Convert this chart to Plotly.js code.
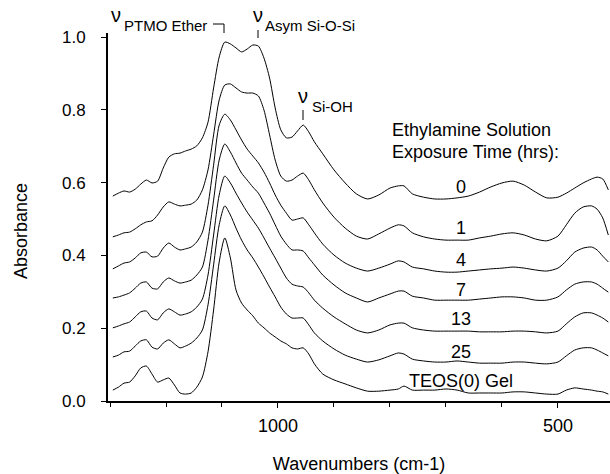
<!DOCTYPE html>
<html><head><meta charset="utf-8">
<script src="https://cdn.plot.ly/plotly-3.0.1.min.js"></script>
<style>html,body{margin:0;padding:0;background:#fff}#chart{width:610px;height:474px}</style>
</head><body><div id="chart"></div>
<script>
const wavenumbers = [1295,1285,1275,1265,1255,1245,1235,1225,1215,1205,1195,1185,1175,1165,1155,1145,1135,1125,1115,1105,1095,1085,1075,1065,1055,1045,1035,1025,1015,1005,
995,985,975,965,955,945,935,920,900,880,860,840,820,800,785,775,760,740,720,700,680,660,640,620,600,580,560,540,520,500,485,470,455,440,430,420,410];

const abs0h = [.563,.571,.577,.574,.582,.596,.607,.599,.604,.640,.670,.679,.681,.687,.692,.701,.723,.766,.860,.945,.986,.981,.970,.959,.967,.978,.975,.942,.887,.805,
.745,.723,.725,.742,.758,.739,.712,.679,.635,.599,.569,.555,.566,.585,.591,.591,
.569,.560,.555,.555,.558,.563,.574,.588,.599,.604,.593,.574,.558,.560,.571,.585,.599,.610,.615,.610,.580];
const abs1h = [.451,.456,.462,.464,.473,.484,.492,.495,.511,.533,.547,.541,.536,.538,.541,.552,.580,.635,.731,.827,.868,.871,.860,.849,.846,.846,.838,.799,.731,.662,
.618,.604,.607,.618,.626,.607,.580,.544,.505,.475,.453,.445,.459,.475,.484,.481,
.462,.451,.445,.442,.442,.442,.448,.453,.459,.462,.456,.445,.440,.453,.484,.516,.533,.536,.527,.503,.456];
const abs4h = [.363,.371,.379,.382,.393,.407,.409,.396,.398,.420,.434,.423,.415,.418,.423,.437,.464,.538,.648,.758,.788,.772,.745,.717,.692,.673,.654,.629,.599,.566,
.538,.516,.497,.500,.503,.484,.462,.431,.401,.379,.365,.357,.365,.376,.385,.382,
.368,.363,.357,.354,.354,.357,.360,.363,.365,.368,.365,.360,.357,.365,.385,.409,.420,.423,.415,.398,.382];
const abs7h = [.283,.286,.291,.297,.310,.324,.327,.310,.308,.327,.338,.330,.324,.327,.332,.346,.368,.442,.552,.662,.706,.684,.654,.626,.607,.588,.571,.544,.516,.484,
.453,.431,.415,.415,.412,.393,.374,.346,.319,.297,.283,.272,.283,.294,.302,.302,
.288,.283,.277,.277,.277,.277,.280,.283,.286,.286,.283,.277,.277,.286,.305,.321,.327,.327,.321,.310,.299];
const abs13h = [.201,.206,.212,.217,.231,.245,.247,.228,.223,.242,.253,.245,.236,.239,.245,.258,.280,.346,.456,.566,.618,.599,.571,.544,.519,.497,.475,.448,.420,.393,
.365,.338,.321,.316,.313,.297,.277,.255,.231,.212,.195,.187,.195,.209,.214,.214,
.201,.195,.192,.192,.192,.192,.190,.190,.190,.192,.192,.190,.187,.192,.212,.231,.242,.242,.236,.228,.217];
const abs25h = [.121,.126,.135,.137,.151,.165,.168,.148,.143,.159,.168,.157,.146,.151,.159,.173,.195,.264,.374,.484,.536,.511,.475,.442,.415,.393,.368,.341,.313,.286,
.258,.239,.228,.228,.228,.209,.187,.165,.143,.126,.115,.107,.113,.124,.132,.129,
.115,.110,.107,.107,.110,.107,.104,.104,.104,.107,.107,.104,.102,.107,.124,.140,.146,.146,.140,.132,.124];
const absTEOS = [.030,.038,.049,.052,.069,.091,.096,.074,.052,.058,.063,.044,.022,.019,.022,.038,.066,.135,.250,.382,.448,.393,.305,.269,.250,.234,.214,.201,.187,.176,
.165,.157,.146,.143,.146,.129,.102,.074,.058,.047,.036,.027,.027,.030,.033,.041,
.030,.030,.030,.033,.030,.022,.022,.022,.022,.025,.025,.022,.019,.019,.030,.036,.033,.030,.027,.025,.019];

const seriesNames = ['0','1','4','7','13','25','TEOS(0) Gel'];
const seriesValues = [abs0h, abs1h, abs4h, abs7h, abs13h, abs25h, absTEOS];
const xTickValues = [1000, 500];
const yTickValues = [0, 0.2, 0.4, 0.6, 0.8, 1.0];

const FONT = '"Liberation Sans", Arial, Helvetica, sans-serif';
const W = 610, H = 474, L = 108, R = 0, T = 33, B = 73;
const pw = W - L - R, ph = H - T - B;
function px(x) { return (x - L) / pw; }
function py(y) { return (H - B - y) / ph; }

const traces = seriesValues.map((vals, i) => ({
  type: 'scatter', mode: 'lines', name: seriesNames[i],
  x: wavenumbers, y: vals,
  line: {color: '#000', width: 1, shape: 'spline', smoothing: 0.7},
  hoverinfo: 'skip', showlegend: false
}));

function ann(text, x, y, size, xanchor, extra) {
  return Object.assign({text: text, xref: 'paper', yref: 'paper', x: px(x), y: py(y),
    xanchor: xanchor || 'center', yanchor: 'middle', showarrow: false,
    font: {family: FONT, size: size, color: '#000'}}, extra || {});
}

const labelPos = [[461,187],[461,228],[461,260],[461,290],[461,319],[461,352],[461,381]];

const annotations = [
  ann('ν', 116, 15, 20),
  ann('PTMO Ether', 122, 25.5, 15, 'left'),
  ann('ν', 258, 15, 20),
  ann('Asym Si-O-Si', 263, 25.5, 15, 'left'),
  ann('ν', 303, 96, 20),
  ann('Si-OH', 310, 106, 15, 'left'),
  ann('Ethylamine Solution', 390, 130, 18, 'left'),
  ann('Exposure Time (hrs):', 390, 152, 18, 'left'),
  ann('Absorbance', 21, 231, 18, 'center', {textangle: -90}),
].concat(seriesNames.map((n, i) => ann(n, labelPos[i][0], labelPos[i][1], 18)));

function seg(x0, y0, x1, y1) {
  return {type: 'line', xref: 'paper', yref: 'paper', x0: px(x0), y0: py(y0), x1: px(x1), y1: py(y1),
    line: {color: '#000', width: 1}};
}
const shapes = [
  seg(213, 24, 224, 24), seg(224, 24, 224, 33),
  seg(258, 30, 258, 38),
  seg(303, 110, 303, 120)
];

const layout = {
  width: W, height: H,
  margin: {l: L, r: R, t: T, b: B, pad: 0},
  paper_bgcolor: '#fff', plot_bgcolor: '#fff',
  font: {family: FONT, size: 18, color: '#000'},
  xaxis: {
    range: [1303.6, 407], showgrid: false, zeroline: false,
    showline: true, linecolor: '#000', linewidth: 2,
    tickmode: 'array', tickvals: xTickValues, ticktext: xTickValues.map(String),
    ticks: 'outside', ticklen: 5, tickwidth: 1, tickcolor: '#000',
    minor: {dtick: 100, tick0: 0, ticks: 'outside', ticklen: 4, tickwidth: 1, tickcolor: '#000', showgrid: false},
    tickfont: {family: FONT, size: 18, color: '#000'},
    ticklabelstandoff: 2,
    title: {text: 'Wavenumbers (cm-1)', font: {family: FONT, size: 18, color: '#000'}, standoff: 28}
  },
  yaxis: {
    range: [0, ph / 364], showgrid: false, zeroline: false,
    showline: true, linecolor: '#000', linewidth: 2,
    tickmode: 'array', tickvals: yTickValues, ticktext: yTickValues.map(v => v.toFixed(1)),
    ticks: 'outside', ticklen: 5, tickwidth: 1, tickcolor: '#000',
    tickfont: {family: FONT, size: 17, color: '#000'},
    ticklabelstandoff: 12
  },
  annotations: annotations,
  shapes: shapes,
  showlegend: false
};

Plotly.newPlot('chart', traces, layout, {displayModeBar: false, staticPlot: true});
</script>
</body></html>
